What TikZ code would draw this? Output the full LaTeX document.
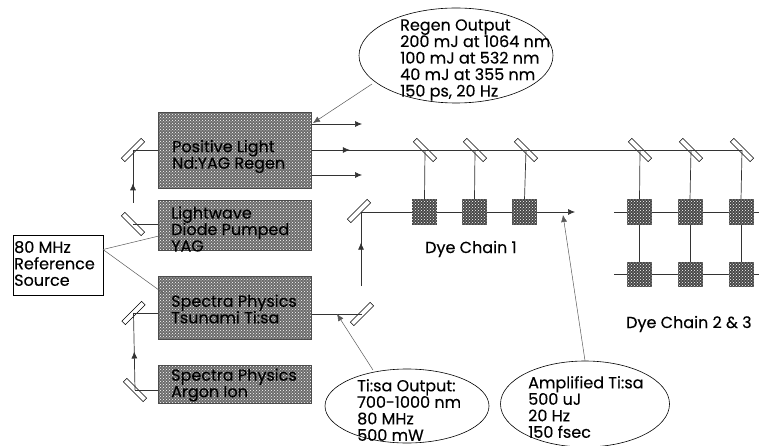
\documentclass[tikz,border=0pt]{standalone}
\usepackage{fontspec}
\setmainfont{Poppins}[FakeBold=0.25]
\usetikzlibrary{shapes.geometric,arrows.meta,decorations.markings,patterns}
\tikzset{
  laser/.style={rectangle,preaction={fill=black!58},pattern=crosshatch dots,pattern color=white,draw=black!70,line width=0.5pt,minimum height=#1,inner sep=0pt,minimum width=153pt},
  dyecell/.style={rectangle,preaction={fill=black!72},pattern=crosshatch dots,pattern color=white,minimum width=25pt,minimum height=25pt,inner sep=0pt},
  mirrorplate/.style={rectangle,draw=black,fill=white,line width=0.6pt,minimum width=28pt,minimum height=5pt,inner sep=0pt},
  beam/.style={draw=black!80,line width=0.7pt},
  leader/.style={draw=black!65,line width=0.5pt},
  bubble/.style={ellipse,draw=black,fill=white,line width=0.6pt,inner sep=0pt},
  lbl/.style={align=left,inner sep=0pt,anchor=west,font=\fontsize{16}{16.5}\selectfont},
  tipat/.style={postaction={decorate,decoration={markings,mark=at position #1 with {\arrow{Latex[length=7pt,width=6pt]}}}}},
  endtip/.style={-{Latex[length=7pt,width=6pt]}}
}
\begin{document}
\begin{tikzpicture}[x=1pt,y=-1pt]
\useasboundingbox (0,0) rectangle (759,446);
% mirrors
\node[mirrorplate,rotate=45] (mtop) at (133,150) {};
\node[mirrorplate,rotate=-45] (mwave) at (133,224) {};
\node[mirrorplate,rotate=45] (mtsu) at (133.5,313) {};
\node[mirrorplate,rotate=-45] (marg) at (135,390) {};
\node[mirrorplate,rotate=45] (mup) at (359,211) {};
\node[mirrorplate,rotate=45] (mlow) at (362,314) {};
\foreach \n/\x in {a/425,b/475,c/526,d/640,e/691,f/742}
  \node[mirrorplate,rotate=-45] (m\n) at (\x,150) {};
% Free ends
\coordinate (out1) at (362,124);
\coordinate (out3) at (362,175);
\coordinate (tail1) at (575,212);
\coordinate (edgeA) at (759,212);
\coordinate (edgeB) at (759,274.5);
\coordinate (startB) at (614,274.5);
\coordinate (startA) at (614,212);
\coordinate (ampTip) at (563,215);
\coordinate (tiTip) at (337,314);
\coordinate (regTip) at (313,123);
\coordinate (refOut) at (103,249.5);
\coordinate (waveIn) at (163,235);
\coordinate (tsuIn) at (163,293);
\coordinate (regTail) at (372,84);
\coordinate (tiTail) at (373,370);
% beams
\path[beam,endtip] (311,124) -- (out1);
\path[beam,endtip] (311,175) -- (out3);
\path[beam,tipat=0.09] (311,150) -- (mf.center);
\path[beam] (mtop.center) -- (160,150);
\path[beam] (mwave.center) -- (160,224);
\path[beam,tipat=0.55,shorten <=21pt] (mwave.center) -- (mtop.center);
\path[beam] (mtsu.center) -- (160,313);
\path[beam,tipat=0.5] (marg.center) -- (mtsu.center);
\path[beam] (marg.center) -- (160,390);
\path[beam] (311,314) -- (mlow.center);
\path[beam,tipat=0.7,shorten <=28pt] (361,314) -- (361,212);
\path[beam,endtip] (361,212) -- (tail1);
\path[beam] (startA) -- (edgeA);
\path[beam] (startB) -- (edgeB);
% dye cells
\foreach \n/\x in {a/424.5,b/474.5,c/524.5,d/639.5,e/690,f/741}
  \node[dyecell] (\n1) at (\x,212) {};
\foreach \n/\x in {d/639.5,e/690,f/741}
  \node[dyecell] (\n2) at (\x,274.5) {};
\foreach \n in {a,b,c,d,e,f} \path[beam] (m\n.center) -- (\n1.north);
\foreach \n in {d,e,f} \path[beam] (\n1.south) -- (\n2.north);
% lasers
\node[laser=76pt] (regen) at (235,150) {};
\node[laser=50pt] (wave) at (234.5,225) {};
\node[laser=63pt] (tsu) at (234.5,307.5) {};
\node[laser=38pt] (argon) at (234.5,384) {};
% reference box
\node[rectangle,draw=black,fill=white,line width=0.6pt,minimum width=90pt,minimum height=60pt,inner sep=0pt] (ref) at (58,265) {};
\path[leader] (refOut) -- (waveIn);
\path[leader] (refOut) -- (tsuIn);
% bubbles
\node[bubble,minimum width=194pt,minimum height=95pt] (bregen) at (456,55.5) {};
\node[bubble,minimum width=164pt,minimum height=74pt] (bti) at (407,406) {};
\node[bubble,minimum width=169pt,minimum height=86pt] (bamp) at (585,404) {};
\path[leader,endtip] (regTail) -- (regTip);
\path[leader,endtip] (tiTail) -- (tiTip);
\path[leader,endtip] (bamp.north) -- (ampTip);
% labels
\node[lbl] (t1) at (172,156.5) {Positive Light\\Nd:YAG Regen};
\node[lbl] (t2) at (171,229) {Lightwave\\Diode Pumped\\YAG};
\node[lbl] (t3) at (171,309) {Spectra Physics\\Tsunami Ti:sa};
\node[lbl] (t4) at (171,385) {Spectra Physics\\Argon Ion};
\node[lbl] (t5) at (14,263.5) {80 MHz\\Reference\\Source};
\node[lbl] (t6) at (400,60) {Regen Output\\200 mJ at 1064 nm\\100 mJ at 532 nm\\40 mJ at 355 nm\\150 ps, 20 Hz};
\node[lbl] (t7) at (357,410) {Ti:sa Output:\\700-1000 nm\\80 MHz\\500 mW};
\node[lbl] (t8) at (528,407) {Amplified Ti:sa\\500 uJ\\20 Hz\\150 fsec};
\node[lbl] (t9) at (425,249) {Dye Chain 1};
\node[lbl] (t10) at (626,324) {Dye Chain 2 \& 3};
\end{tikzpicture}
\end{document}
